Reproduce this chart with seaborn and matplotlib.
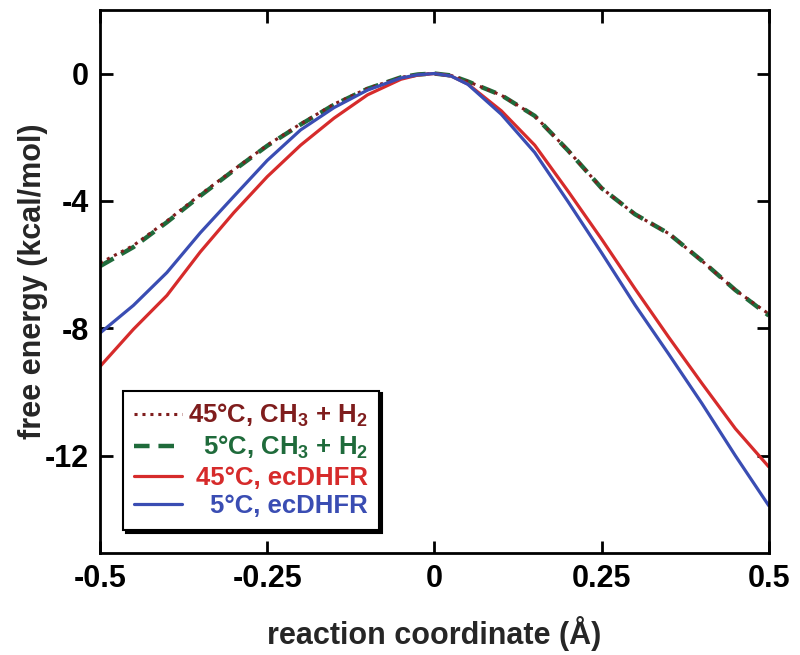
import matplotlib
matplotlib.use("Agg")
import matplotlib.pyplot as plt
import seaborn as sns
import pandas as pd

# reaction coordinate grid (Å)
x_coord = [-0.5, -0.45, -0.4, -0.35, -0.3, -0.25, -0.2, -0.15, -0.1, -0.05, -0.025,
           0.0, 0.025, 0.05, 0.1, 0.15, 0.2, 0.25, 0.3, 0.35, 0.4, 0.45, 0.5]

# free energy (kcal/mol)
ch3_45 = [-5.95, -5.40, -4.63, -3.80, -3.02, -2.25, -1.58, -0.96, -0.47, -0.12, -0.03,
          0.0, -0.06, -0.25, -0.68, -1.33, -2.42, -3.60, -4.42, -5.02, -5.88, -6.80, -7.55]
ch3_5 = [-6.05, -5.45, -4.67, -3.84, -3.04, -2.27, -1.60, -0.98, -0.48, -0.12, -0.03,
         0.0, -0.06, -0.25, -0.68, -1.33, -2.42, -3.60, -4.42, -5.02, -5.88, -6.80, -7.60]
dhfr_45 = [-9.20, -8.03, -6.97, -5.60, -4.37, -3.24, -2.25, -1.40, -0.67, -0.18, -0.05,
           0.0, -0.08, -0.33, -1.17, -2.25, -3.70, -5.20, -6.76, -8.27, -9.73, -11.15, -12.35]
dhfr_5 = [-8.15, -7.28, -6.25, -5.00, -3.86, -2.73, -1.77, -1.07, -0.52, -0.14, -0.04,
          0.0, -0.08, -0.34, -1.28, -2.48, -4.03, -5.63, -7.27, -8.80, -10.36, -12.00, -13.57]

labels = [r"45°C, CH$_3$ + H$_2$", r"5°C, CH$_3$ + H$_2$", "45°C, ecDHFR", "5°C, ecDHFR"]
colors = ["#7f1d1d", "#1f6b3b", "#d62b2b", "#3a4db3"]

sns.set_theme(style="ticks")
plt.rcParams["font.family"] = ["Liberation Sans", "DejaVu Sans"]
plt.rcParams["font.weight"] = "bold"
plt.rcParams["mathtext.fontset"] = "custom"
plt.rcParams["mathtext.rm"] = "Liberation Sans:bold"
plt.rcParams["mathtext.it"] = "Liberation Sans:bold"
plt.rcParams["mathtext.bf"] = "Liberation Sans:bold"

df = pd.DataFrame({"x": x_coord, "a": ch3_45, "b": ch3_5, "c": dhfr_45, "d": dhfr_5})

fig = plt.figure(figsize=(8, 6.55), dpi=100)
ax = fig.add_axes([0.125, 0.156, 0.836, 0.829])

# green dashed first, brown dots on top of it
sns.lineplot(data=df, x="x", y="b", ax=ax, color=colors[1], lw=3.2,
             linestyle=(0, (3.5, 2)), sort=False, estimator=None, label=labels[1])
sns.lineplot(data=df, x="x", y="a", ax=ax, color=colors[0], lw=2.2,
             linestyle=(0, (1, 1.6)), sort=False, estimator=None, label=labels[0])
sns.lineplot(data=df, x="x", y="c", ax=ax, color=colors[2], lw=2.3,
             sort=False, estimator=None, label=labels[2])
sns.lineplot(data=df, x="x", y="d", ax=ax, color=colors[3], lw=2.3,
             sort=False, estimator=None, label=labels[3])

ax.set_xlim(-0.5, 0.5)
ax.set_ylim(-15.05, 2.0)
ax.set_xticks([-0.5, -0.25, 0, 0.25, 0.5])
ax.set_xticklabels(["-0.5", "-0.25", "0", "0.25", "0.5"])
ax.set_yticks([0, -4, -8, -12])
ax.set_yticklabels(["0", "-4", "-8", "-12"])
ax.tick_params(direction="in", length=9, width=2, top=True, right=True,
               labelsize=22, pad=8, colors="black")
for s in ax.spines.values():
    s.set_linewidth(2)
    s.set_color("black")
ax.set_xlabel("reaction coordinate (Å)", fontsize=22, fontweight="bold", labelpad=16)
ax.set_ylabel("free energy (kcal/mol)", fontsize=22, fontweight="bold", labelpad=-2)

handles, labs = ax.get_legend_handles_labels()
order = [1, 0, 2, 3]
leg = ax.legend([handles[i] for i in order], [labs[i] for i in order],
                loc="lower left", bbox_to_anchor=(0.034, 0.042), borderaxespad=0,
                fontsize=18.5, frameon=True, fancybox=False, labelcolor="linecolor",
                handlelength=1.85, handletextpad=0.25, labelspacing=0.18, borderpad=0.45,
                shadow={"facecolor": "black", "edgecolor": "black", "alpha": 1})
leg.get_frame().set_edgecolor("black")
leg.get_frame().set_linewidth(1.5)
leg.get_frame().set_alpha(1)

# right-align the legend texts inside their column
fig.canvas.draw()
renderer = fig.canvas.get_renderer()
texts = leg.get_texts()
widths = [t.get_window_extent(renderer).width for t in texts]
shift = max(widths)
for t, w in zip(texts, widths):
    t.set_position((shift - w, 0))

fig.savefig("out.png", dpi=100)
